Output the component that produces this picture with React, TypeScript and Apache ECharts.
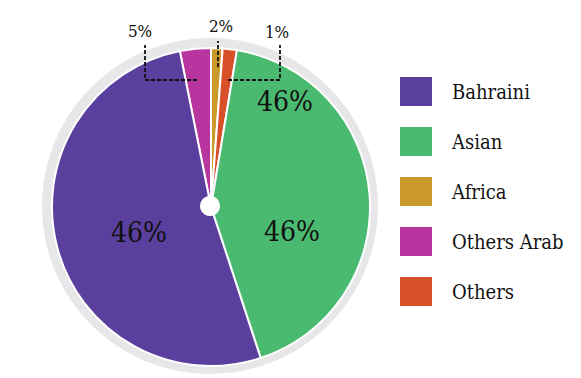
import React, { useEffect, useRef } from "react";
import * as echarts from "echarts";

// Clockwise from the top of the pie
const categories = ["Others Arab", "Africa", "Others", "Asian", "Bahraini"];
const values = [3.14, 1.17, 1.44, 42.33, 51.92];
const labelTexts = ["5%", "2%", "1%", "46%", "46%"];
const legendOrder = ["Bahraini", "Asian", "Africa", "Others Arab", "Others"];
const colors: Record<string, string> = {
  Bahraini: "#5a3f9e",
  Asian: "#4bba71",
  Africa: "#c99a2a",
  "Others Arab": "#b8349f",
  Others: "#d8502a",
};

// label placement (layout only), indexed like categories
const labelPos: { x: number; y: number }[] = [
  { x: 140, y: 31 },
  { x: 221, y: 26 },
  { x: 277, y: 32 },
  { x: 292, y: 231 },
  { x: 139, y: 232 },
];
const leaderLines: number[][][] = [
  [[197, 80], [145, 80], [145, 45]],
  [[218, 67], [218, 41]],
  [[228, 80], [280, 80], [280, 45]],
];

const FONT = "DejaVu Serif Condensed, DejaVu Serif, serif";

export default function App() {
  const ref = useRef<HTMLDivElement>(null);
  useEffect(() => {
    if (!ref.current) return;
    const chart = echarts.init(ref.current, undefined, { renderer: "svg" });
    const small = (n: string) => ["Others Arab", "Africa", "Others"].includes(n);
    chart.setOption({
      animation: false,
      backgroundColor: "#ffffff",
      legend: {
        orient: "vertical",
        left: 398,
        top: 75,
        padding: 0,
        icon: "rect",
        itemWidth: 34,
        itemHeight: 31,
        itemGap: 17,
        data: legendOrder,
        selectedMode: false,
        textStyle: {
          fontFamily: FONT,
          fontSize: 20,
          color: "#111111",
          padding: [0, 0, 0, 14],
        },
      },
      graphic: [
        {
          type: "text",
          x: 285,
          y: 101,
          style: {
            text: labelTexts[3],
            fontFamily: FONT,
            fontSize: 28,
            fill: "#111111",
            align: "center",
            verticalAlign: "middle",
          },
          z: 100,
        },
        ...leaderLines.map((pts) => ({
          type: "polyline",
          z: 100,
          shape: { points: pts },
          style: { stroke: "#111", lineWidth: 1.8, lineDash: [4, 2], fill: null },
        })),
      ],
      series: [
        {
          type: "pie",
          center: [210, 206],
          radius: 168,
          silent: true,
          z: 1,
          label: { show: false },
          labelLine: { show: false },
          itemStyle: { color: "#e7e7e9" },
          data: [{ value: 1, name: "ring" }],
        },
        {
          type: "pie",
          center: [211, 207],
          radius: 159,
          startAngle: 101.3,
          clockwise: true,
          z: 2,
          avoidLabelOverlap: false,
          itemStyle: { borderColor: "#ffffff", borderWidth: 2 },
          labelLine: { show: false },
          data: categories.map((c, i) => ({
            name: c,
            value: values[i],
            itemStyle: { color: colors[c] },
            label: {
              show: true,
              position: small(c) ? "outside" : "inside",
              formatter: labelTexts[i],
              fontFamily: FONT,
              fontSize: small(c) ? 17 : 28,
              color: "#111111",
            },
            labelLine: { show: false },
          })),
          labelLayout: (params: any) => {
            const p = labelPos[params.dataIndex];
            if (!p) return {};
            return { x: p.x, y: p.y, align: "center", verticalAlign: "middle" };
          },
        },
        {
          type: "pie",
          center: [210, 206],
          radius: 10,
          silent: true,
          z: 3,
          label: { show: false },
          labelLine: { show: false },
          itemStyle: { color: "#ffffff" },
          data: [{ value: 1, name: "hole" }],
        },
      ],
    });
    return () => chart.dispose();
  }, []);
  return (
    <div
      ref={ref}
      style={{ position: "fixed", left: 0, top: 0, width: 581, height: 378 }}
    />
  );
}
